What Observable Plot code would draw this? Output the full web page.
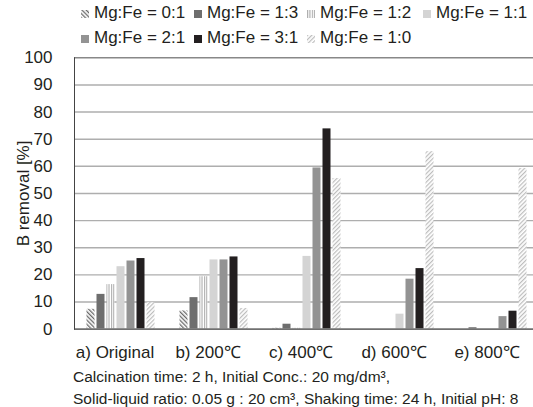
<!DOCTYPE html>
<html>
<head>
<meta charset="utf-8">
<script src="https://cdn.jsdelivr.net/npm/d3@7"></script>
<script src="https://cdn.jsdelivr.net/npm/@observablehq/plot@0.6"></script>
<style>
  html, body { margin: 0; padding: 0; background: #fff; }
  body { width: 533px; height: 407px; overflow: hidden; font-family: "Liberation Sans", Arial, sans-serif; color: #231f20; }
  #legend { height: 48px; box-sizing: border-box; padding: 0 0 0 81px; display: grid; grid-template-columns: 113px 113px 116px auto; line-height: 25px; font-size: 17px; }
  #legend .item { white-space: nowrap; }
  #legend svg { display: inline-block; vertical-align: baseline; margin-right: 5px; }
  #chart svg { display: block; }
  #caption { height: 41px; box-sizing: border-box; padding: 0 0 0 73px; font-size: 15.5px; line-height: 22px; white-space: nowrap; }
</style>
</head>
<body>
<div id="legend"></div>
<div id="chart"></div>
<div id="caption"></div>
<script>
const groups = ["a) Original", "b) 200℃", "c) 400℃", "d) 600℃", "e) 800℃"];
const series = ["Mg:Fe = 0:1", "Mg:Fe = 1:3", "Mg:Fe = 1:2", "Mg:Fe = 1:1", "Mg:Fe = 2:1", "Mg:Fe = 3:1", "Mg:Fe = 1:0"];
const mgFe01 = [7.3, 6.7, 0.3, 0, 0];
const mgFe13 = [12.8, 11.6, 1.8, 0, 0.5];
const mgFe12 = [16.4, 19.3, 0.3, 0, 0];
const mgFe11 = [23.0, 25.5, 26.8, 5.5, 0];
const mgFe21 = [25.1, 25.5, 59.4, 18.4, 4.6];
const mgFe31 = [26.0, 26.6, 73.8, 22.3, 6.6];
const mgFe10 = [9.7, 7.6, 55.5, 65.4, 59.2];
const yTicks = [0, 10, 20, 30, 40, 50, 60, 70, 80, 90, 100];
const yLabel = "B removal [%]";
const captionLines = [
  "Calcination time: 2 h, Initial Conc.: 20 mg/dm³,",
  "Solid-liquid ratio: 0.05 g : 20 cm³, Shaking time: 24 h, Initial pH: 8"
];

const seriesValues = [mgFe01, mgFe13, mgFe12, mgFe11, mgFe21, mgFe31, mgFe10];
const fills = ["url(#pat01)", "#6e6e6e", "url(#pat12)", "#d4d4d4", "#939393", "#231f20", "url(#pat10)"];

const table = [];
groups.forEach((g, gi) => series.forEach((s, si) => table.push({group: g, series: s, value: seriesValues[si][gi]})));

const chart = Plot.plot({
  width: 533,
  height: 318,
  marginTop: 9.3,
  marginBottom: 37.4,
  marginLeft: 73.5,
  marginRight: 0,
  style: {fontFamily: "'Liberation Sans', Arial, sans-serif", color: "#231f20", background: "white"},
  fx: {domain: groups, range: [73.5, 539.5], padding: 0},
  x: {domain: series, paddingInner: 0.21, paddingOuter: 0.84, axis: null},
  y: {domain: [0, 100]},
  color: {type: "ordinal", domain: series, range: fills},
  marks: [
    Plot.ruleY(yTicks.filter(t => t > 0 && t < 100), {stroke: "#aeaeae", strokeWidth: 1.4}),
    Plot.ruleY(yTicks.filter(t => t === 100), {stroke: "#888", strokeWidth: 1.4}),
    Plot.barY(table, {fx: "group", x: "series", y: "value", fill: "series"}),
    Plot.ruleY(yTicks.filter(t => t === 0), {stroke: "#707070", strokeWidth: 1.8}),
    Plot.frame({anchor: "left", facetAnchor: "left", stroke: "#444"}),
    Plot.axisY(yTicks, {tickSize: 0, tickPadding: 22, fontSize: 17, label: yLabel, labelAnchor: "center", labelOffset: 58, labelArrow: "none"}),
    Plot.axisFx({anchor: "bottom", tickSize: 0, tickPadding: 17, fontSize: 17, dx: -6, label: null})
  ]
});

// hatch patterns
const defs = d3.select(chart).insert("defs", ":first-child");
function hatch(id, size, bar, color, angle) {
  const p = defs.append("pattern").attr("id", id).attr("patternUnits", "userSpaceOnUse")
    .attr("width", size).attr("height", size).attr("patternTransform", `rotate(${angle})`);
  p.append("rect").attr("width", size).attr("height", size).attr("fill", "#fff");
  p.append("rect").attr("width", bar).attr("height", size).attr("fill", color);
}
hatch("pat01", 3, 1.3, "#6a6a6a", -45);
hatch("pat12", 2.4, 1.1, "#a8a8a8", 0);
hatch("pat10", 3, 1.2, "#bdbdbd", 45);

document.getElementById("chart").appendChild(chart);

// legend
const legend = d3.select("#legend");
series.forEach((s, i) => {
  const item = legend.append("span").attr("class", "item");
  const sw = item.append("svg").attr("width", 8).attr("height", 8);
  sw.append("rect").attr("width", 8).attr("height", 8).attr("fill", fills[i]);
  item.append("span").text(s);
});

// caption
const cap = d3.select("#caption");
captionLines.forEach(l => cap.append("div").text(l));
</script>
</body>
</html>
